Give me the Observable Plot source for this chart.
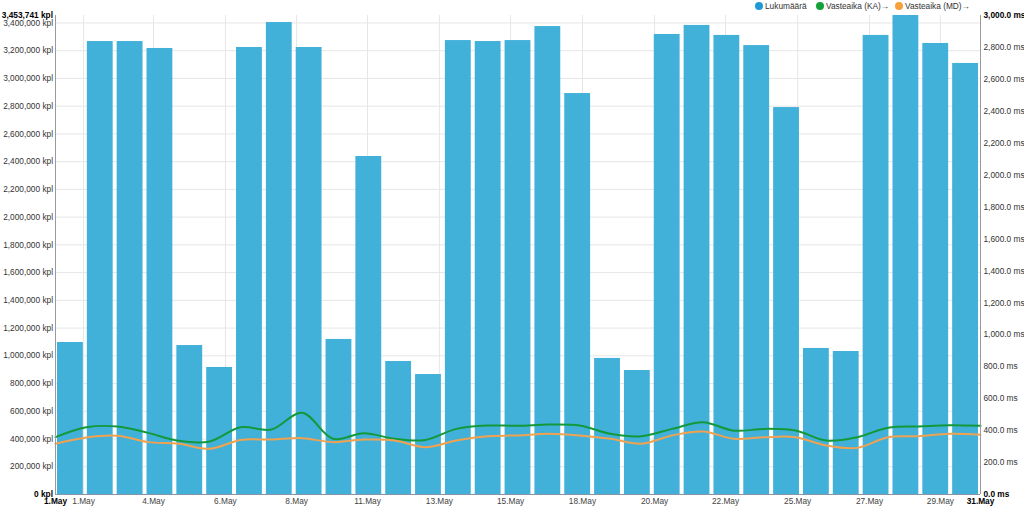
<!DOCTYPE html>
<html><head><meta charset="utf-8">
<script src="https://cdn.jsdelivr.net/npm/d3@7"></script>
<script src="https://cdn.jsdelivr.net/npm/@observablehq/plot@0.6"></script>
<style>
body{margin:0;background:#fff;font-family:"Liberation Sans",Arial,sans-serif;}
#wrap{position:relative;width:1024px;height:516px;overflow:hidden;}
.leg{position:absolute;top:1px;font-size:8.3px;color:#333;line-height:10px;white-space:nowrap;display:flex;align-items:center;}
.leg .dot{display:inline-block;width:8px;height:8px;border-radius:50%;margin-right:2px;}
</style></head><body><div id="wrap"></div>
<script>
// Daily request count (kpl), 1.–31. May
const counts = [1096000, 3266000, 3266000, 3216000, 1074000, 916000, 3223000, 3403000, 3223000, 1118000,
  2437000, 959000, 865000, 3273000, 3266000, 3273000, 3374000, 2891000, 981000, 894000,
  3317000, 3382000, 3310000, 3237000, 2790000, 1053000, 1031000, 3310000, 3453741, 3252000, 3108000];
// Response time average (KA) and median (MD), ms
const avgMs = [359, 421, 426, 386, 336, 332, 421, 407, 512, 349, 384, 349, 342, 411, 432, 430,
  438, 432, 380, 365, 411, 453, 400, 411, 401, 338, 359, 418, 426, 434, 430];
const medMs = [318, 357, 368, 328, 318, 286, 342, 344, 353, 328, 344, 338, 296, 338, 365, 370,
  380, 370, 349, 318, 370, 395, 349, 359, 359, 307, 292, 359, 365, 380, 374];
// x-axis tick positions (days since 1.May 00:00) and labels
const tickDays = [0.91, 3.18, 5.51, 7.82, 10.12, 12.45, 14.76, 17.09, 19.43, 21.73, 24.07, 26.40, 28.70];
const tickLabels = ["1.May","4.May","6.May","8.May","11.May","13.May","15.May","18.May","20.May","22.May","25.May","27.May","29.May"];
const edgeLabels = ["1.May", "31.May"];
const leftTicks = d3.range(200000, 3400001, 200000);
const rightTicksMs = d3.range(200, 2801, 200);
const maxCount = 3453741;
const maxMs = 3000;
const seriesNames = ["Lukumäärä", "Vasteaika (KA)→", "Vasteaika (MD)→"];
const seriesColors = ["#1c9ad6", "#14a13a", "#f7a13c"];

const spanDays = 30;
const toKpl = maxCount / maxMs;
const bars = counts.map((v, i) => ({x1: i * spanDays / counts.length, x2: (i + 1) * spanDays / counts.length, v}));
const lines = avgMs.map((v, k) => ({k, avg: v * toKpl, med: medMs[k] * toKpl}));
const fmtKpl = d => d3.format(",")(Math.round(d)) + " kpl";
const fmtMs = d => d3.format(",.1f")(d) + " ms";

const chart = Plot.plot({
  width: 1024, height: 516,
  marginLeft: 55, marginRight: 44, marginTop: 15, marginBottom: 22,
  x: {domain: [0, spanDays], axis: null},
  y: {domain: [0, maxCount], axis: null},
  style: {fontFamily: '"Liberation Sans", Arial, sans-serif', fontSize: "8.3px", background: "white"},
  marks: [
    Plot.gridY(leftTicks, {stroke: "#e6e6e6", strokeOpacity: 1}),
    Plot.gridX(tickDays, {stroke: "#e6e6e6", strokeOpacity: 1}),
    Plot.rectY(bars, {x1: "x1", x2: "x2", y: "v", fill: "#41b1d9", insetLeft: 2, insetRight: 2}),
    Plot.line(lines, {x: "k", y: "avg", stroke: "#12993a", strokeWidth: 2, curve: "catmull-rom"}),
    Plot.line(lines, {x: "k", y: "med", stroke: "#f0a250", strokeWidth: 2, curve: "catmull-rom"}),
    Plot.ruleY([0], {stroke: "#8596a6"}),
    Plot.ruleX([0, spanDays], {stroke: "#9a9a9a"}),
    Plot.axisY(leftTicks, {anchor: "left", tickSize: 0, tickPadding: 2.5, tickFormat: fmtKpl, fill: "#333"}),
    Plot.axisY([0, maxCount], {anchor: "left", tickSize: 0, tickPadding: 2.5, tickFormat: fmtKpl, fill: "#000", fontWeight: "bold"}),
    Plot.axisY(rightTicksMs.map(v => v * toKpl), {anchor: "right", tickSize: 0, tickPadding: 3, tickFormat: d => fmtMs(d / toKpl), fill: "#333"}),
    Plot.axisY([0, maxCount], {anchor: "right", tickSize: 0, tickPadding: 3, tickFormat: d => fmtMs(d / toKpl), fill: "#000", fontWeight: "bold"}),
    Plot.axisX(tickDays, {anchor: "bottom", tickSize: 0, tickPadding: 4, tickFormat: d => tickLabels[tickDays.indexOf(d)], fill: "#444"}),
    Plot.axisX([0, spanDays], {anchor: "bottom", tickSize: 0, tickPadding: 4, tickFormat: d => d === 0 ? edgeLabels[0] : edgeLabels[1], fill: "#000", fontWeight: "bold"})
  ]
});
const wrap = document.getElementById("wrap");
wrap.appendChild(chart);
const legX = [755, 816, 895];
seriesNames.forEach((name, i) => {
  const d = document.createElement("div");
  d.className = "leg";
  d.style.left = legX[i] + "px";
  d.innerHTML = `<span class="dot" style="background:${seriesColors[i]}"></span>${name}`;
  wrap.appendChild(d);
});
</script>
</body></html>
